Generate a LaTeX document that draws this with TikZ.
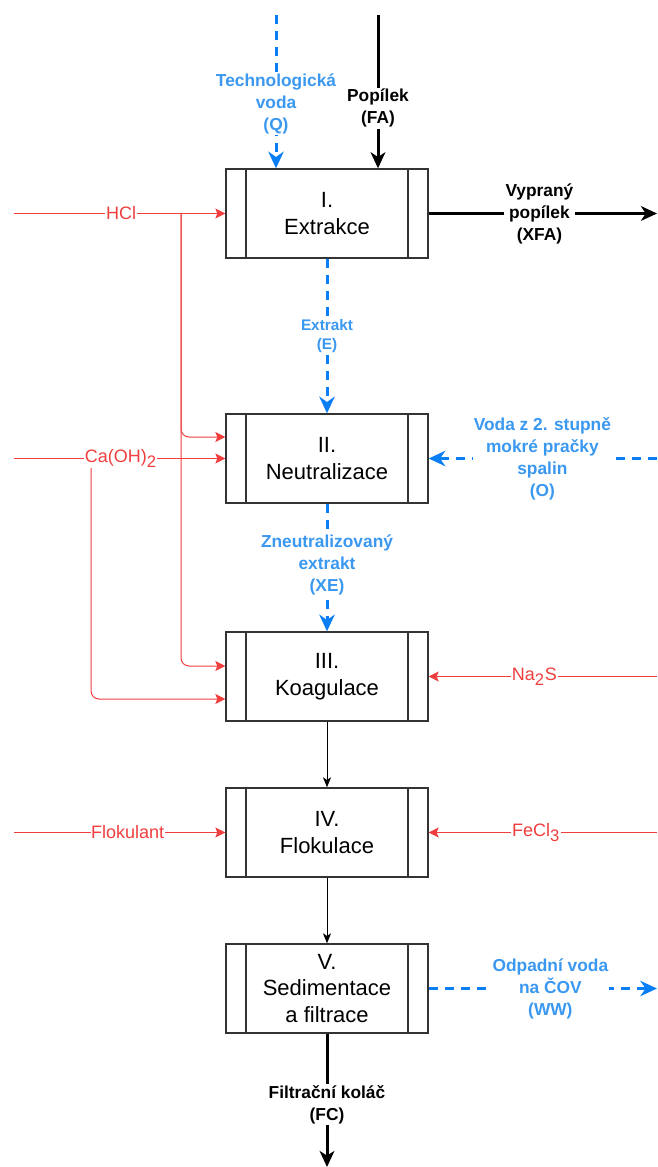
\documentclass[tikz,border=0pt]{standalone}
\usepackage{fontspec}
\setmainfont{Liberation Sans}
\usetikzlibrary{arrows.meta,calc}
\definecolor{flowblue}{HTML}{0A7FF5}
\definecolor{labblue}{HTML}{3A98F0}
\definecolor{flowred}{HTML}{F03E3E}
\definecolor{boxgray}{HTML}{333333}
\tikzset{
  procbox/.style={draw=boxgray, line width=1pt, minimum width=151.5pt, minimum height=66.75pt,
    align=center, font=\fontsize{16.5}{20}\selectfont, inner sep=0pt,
    path picture={
      \draw[boxgray, line width=1pt] ([xshift=15pt]path picture bounding box.north west) -- ([xshift=15pt]path picture bounding box.south west);
      \draw[boxgray, line width=1pt] ([xshift=-15pt]path picture bounding box.north east) -- ([xshift=-15pt]path picture bounding box.south east);
    }},
  blueflow/.style={draw=flowblue, line width=2.25pt, dash pattern=on 7pt off 5pt,
    -{Stealth[length=12.5pt,width=11.5pt,inset=4pt]}},
  blackflow/.style={draw=black, line width=2.25pt, -{Stealth[length=12pt,width=11pt,inset=3.5pt]}},
  thinflow/.style={draw=black, line width=0.75pt, -{Stealth[length=7.5pt,width=6pt,inset=2pt]}},
  redline/.style={draw=flowred, line width=0.75pt, -{Stealth[length=7.5pt,width=7.5pt,inset=1.5pt]}},
  redbranch/.style={redline, rounded corners=6pt},
  bluelab/.style={fill=white, inner sep=1pt, align=center, text=labblue, font=\bfseries\fontsize{13}{16.5}\selectfont},
  bluesmall/.style={fill=white, inner sep=1pt, align=center, text=labblue, font=\bfseries\fontsize{11.5}{14.25}\selectfont},
  blacklab/.style={fill=white, inner sep=1pt, align=center, text=black, font=\bfseries\fontsize{13}{16.5}\selectfont},
  redlab/.style={fill=white, inner sep=0.5pt, text=flowred, font=\fontsize{13.5}{16}\selectfont},
}
\begin{document}
\begin{tikzpicture}[x=0.75pt,y=-0.75pt]
\useasboundingbox (0,0) rectangle (657,1167);
% process boxes
\node[procbox] (b1) at (327,213.5) {I.\\Extrakce};
\node[procbox] (b2) at (327,458.5) {II.\\Neutralizace};
\node[procbox] (b3) at (327,676.5) {III.\\Koagulace};
\node[procbox] (b4) at (327,832.5) {IV.\\Flokulace};
\node[procbox] (b5) at (327,988.5) {V.\\Sedimentace\\a filtrace};
% free ends
\coordinate (q0) at (276,15);
\coordinate (fa0) at (378,15);
\coordinate (xfa) at (657,213.5);
\coordinate (hcl0) at (14,213.5);
\coordinate (hclj) at (181,213.5);
\coordinate (ca0) at (14,458.5);
\coordinate (caj) at (91,458.5);
\coordinate (o0) at (657,458.5);
\coordinate (na0) at (657,676.5);
\coordinate (fl0) at (14,832.5);
\coordinate (fe0) at (657,832.5);
\coordinate (ww) at (657,988.5);
\coordinate (fc) at (327,1167);
% red branches
\draw[redbranch] (hclj) |- ($(b2.west)+(0,-21.5)$);
\draw[redbranch] (hclj) |- ($(b3.west)+(0,-10.5)$);
\draw[redbranch] (caj) |- ($(b3.west)+(0,22.5)$);
% red main lines
\draw[redline] (hcl0) -- node[redlab,pos=0.507]{HCl} (b1.west);
\draw[redline] (ca0) -- node[redlab,pos=0.505]{Ca(OH)\textsubscript{\fontsize{12.5}{12}\selectfont 2}} (b2.west);
\draw[redline] (na0) -- node[redlab,pos=0.537]{Na\textsubscript{\fontsize{12.5}{12}\selectfont 2}S} (b3.east);
\draw[redline] (fl0) -- node[redlab,pos=0.538]{Flokulant} (b4.west);
\draw[redline] (fe0) -- node[redlab,pos=0.53]{FeCl\textsubscript{\fontsize{12.5}{12}\selectfont 3}} (b4.east);
% blue flows
\draw[blueflow] (q0) -- node[bluelab,pos=0.578]{Technologická\\voda\\(Q)} (q0 |- b1.north);
\draw[blueflow] (b1.south) -- node[bluesmall,pos=0.497]{Extrakt\\(E)} (b2.north);
\draw[blueflow] (o0) -- node[bluelab,pos=0.502]{Voda z 2. stupně\\mokré pračky\\spalin\\(O)} (b2.east);
\draw[blueflow] (b2.south) -- node[bluelab,pos=0.48]{Zneutralizovaný\\extrakt\\(XE)} (b3.north);
\draw[blueflow] (b5.east) -- node[bluelab,pos=0.533]{Odpadní voda\\na ČOV\\(WW)} (ww);
% black flows
\draw[blackflow] (fa0) -- node[blacklab,pos=0.607]{Popílek\\(FA)} (fa0 |- b1.north);
\draw[blackflow] (b1.east) -- node[blacklab,pos=0.485]{Vypraný\\popílek\\(XFA)} (xfa);
\draw[thinflow] (b3.south) -- (b4.north);
\draw[thinflow] (b4.south) -- (b5.north);
\draw[blackflow] (b5.south) -- node[blacklab,pos=0.53]{Filtrační koláč\\(FC)} (fc);
\end{tikzpicture}
\end{document}
